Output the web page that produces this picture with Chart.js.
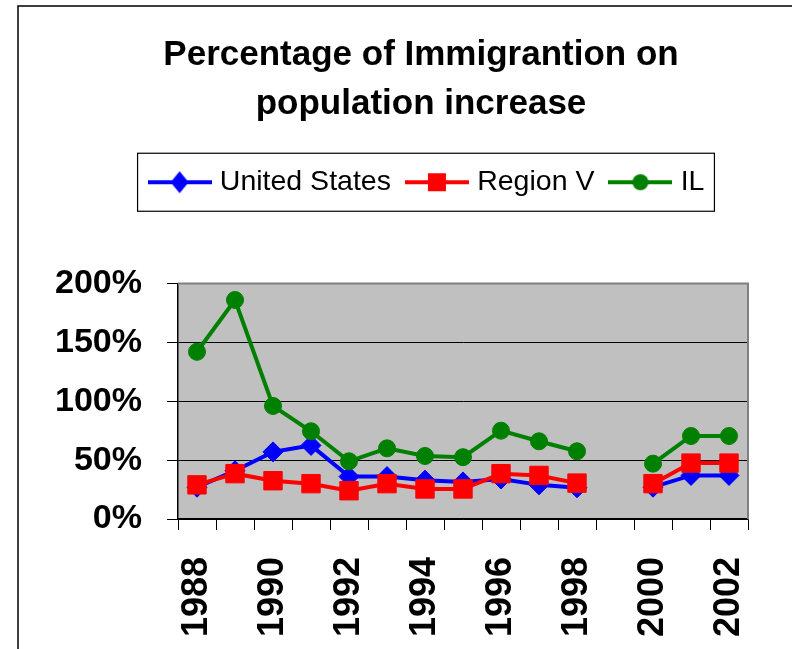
<!DOCTYPE html>
<html>
<head>
<meta charset="utf-8">
<script src="https://cdn.jsdelivr.net/npm/chart.js@4.4.1/dist/chart.umd.min.js"></script>
<style>
  html, body { margin: 0; padding: 0; background: #fff; overflow: hidden; }
  #wrap { width: 792px; height: 649px; }
</style>
</head>
<body>
<div id="wrap"><canvas id="chart" width="792" height="649"></canvas></div>
<script>
// Data (percent); 1999 has no value
const years = ["1988", "1989", "1990", "1991", "1992", "1993", "1994", "1995",
               "1996", "1997", "1998", "1999", "2000", "2001", "2002"];
const unitedStates = [27, 41, 57, 62.5, 36, 36, 33, 31.5, 34, 29, 26.5, null, 27, 37, 37];
const regionV = [29, 38.5, 32.5, 30, 24, 30, 25.5, 25.5, 38.5, 37, 30.5, null, 30, 47.5, 47.5];
const illinois = [142, 186, 96, 74.5, 49, 60, 53.5, 52.5, 75, 66, 57.5, null, 47, 70.5, 70.5];
const yTicks = [0, 50, 100, 150, 200];

const FONT = "'Liberation Sans', Arial, sans-serif";

// legend sample: short line with the marker in the middle
function legendMark(color, shape) {
  const c = document.createElement("canvas");
  c.width = 64;
  c.height = 28;
  const g = c.getContext("2d");
  g.strokeStyle = color;
  g.fillStyle = color;
  g.lineWidth = 4;
  g.beginPath();
  g.moveTo(0, 14);
  g.lineTo(64, 14);
  g.stroke();
  g.beginPath();
  if (shape === "diamond") {
    g.moveTo(32, 3); g.lineTo(41, 14); g.lineTo(32, 25); g.lineTo(23, 14);
  } else if (shape === "square") {
    g.rect(23, 5, 18, 18);
  } else {
    g.arc(32, 14, 8, 0, Math.PI * 2);
  }
  g.closePath();
  g.fill();
  return c;
}

const legendMarks = [
  legendMark("#0000FF", "diamond"),
  legendMark("#FF0000", "square"),
  legendMark("#008000", "circle"),
];

// frame, grey plot area and the boxed legend
const decor = {
  id: "decor",
  beforeInit(chart) {
    const fit = chart.legend.fit;
    chart.legend.fit = function () {
      fit.call(this);
      this.height += 77;
    };
  },
  afterLayout(chart) {
    // legend sits a little right of the title in the original
    chart.legend.left += 8;
    chart.legend.right += 8;
  },
  beforeDraw(chart) {
    const { ctx, chartArea: a } = chart;
    ctx.save();
    ctx.fillStyle = "#fff";
    ctx.fillRect(0, 0, chart.width, chart.height);
    ctx.fillStyle = "#C0C0C0";
    ctx.fillRect(a.left, a.top, a.right - a.left, a.bottom - a.top);
    ctx.strokeStyle = "#000";
    ctx.lineWidth = 1.5;
    ctx.beginPath();
    ctx.moveTo(18, chart.height + 5);
    ctx.lineTo(18, 6);
    ctx.lineTo(chart.width + 5, 6);
    ctx.stroke();
    ctx.restore();
  },
  beforeDatasetsDraw(chart) {
    const { ctx, chartArea: a } = chart;
    ctx.save();
    ctx.strokeStyle = "#808080";
    ctx.lineWidth = 2;
    ctx.beginPath();
    ctx.moveTo(a.left, a.top);
    ctx.lineTo(a.right, a.top);
    ctx.lineTo(a.right, a.bottom);
    ctx.stroke();
    ctx.restore();
  },
  afterDraw(chart) {
    const boxes = chart.legend.legendHitBoxes;
    if (!boxes || !boxes.length) return;
    const first = boxes[0];
    const last = boxes[boxes.length - 1];
    const mid = first.top + first.height / 2;
    const ctx = chart.ctx;
    ctx.save();
    ctx.strokeStyle = "#000";
    ctx.lineWidth = 1.2;
    ctx.strokeRect(first.left - 16, mid - 29, last.left + last.width - first.left + 26, 58);
    ctx.restore();
  },
};

new Chart(document.getElementById("chart"), {
  type: "line",
  data: {
    labels: years,
    datasets: [
      {
        label: "United States",
        data: unitedStates,
        borderColor: "#0000FF",
        backgroundColor: "#0000FF",
        pointStyle: "rectRot",
        pointRadius: 10,
        order: 3,
      },
      {
        label: "Region V",
        data: regionV,
        borderColor: "#FF0000",
        backgroundColor: "#FF0000",
        pointStyle: "rect",
        pointRadius: 13,
        order: 2,
      },
      {
        label: "IL",
        data: illinois,
        borderColor: "#008000",
        backgroundColor: "#008000",
        pointStyle: "circle",
        pointRadius: 8.5,
        order: 1,
      },
    ],
  },
  options: {
    responsive: false,
    animation: false,
    devicePixelRatio: 1,
    spanGaps: false,
    layout: { padding: { left: 50, right: 0, top: 10, bottom: 0 } },
    elements: {
      line: { borderWidth: 4, tension: 0 },
      point: { borderWidth: 1 },
    },
    plugins: {
      tooltip: { enabled: false },
      title: {
        display: true,
        text: ["Percentage of Immigrantion on", "population increase"],
        color: "#000",
        font: { family: FONT, size: 35, weight: "bold", lineHeight: 1.4 },
        padding: { top: 20.5, bottom: 19.5 },
      },
      legend: {
        display: true,
        position: "top",
        labels: {
          color: "#000",
          font: { family: FONT, size: 28.5 },
          usePointStyle: true,
          pointStyleWidth: 52,
          boxHeight: 28,
          padding: 20,
          generateLabels(chart) {
            const items = Chart.defaults.plugins.legend.labels.generateLabels(chart);
            items.forEach((it) => { it.pointStyle = legendMarks[it.datasetIndex]; });
            return items;
          },
          sort: (a, b) => a.datasetIndex - b.datasetIndex,
        },
      },
    },
    scales: {
      x: {
        type: "category",
        offset: true,
        grid: {
          offset: true,
          drawOnChartArea: false,
          tickLength: 11,
          color: "#000",
        },
        border: { color: "#000", width: 1.5 },
        ticks: {
          autoSkip: false,
          minRotation: 90,
          maxRotation: 90,
          padding: 27,
          color: "#000",
          font: { family: FONT, size: 36, weight: "bold" },
          callback(value, index) {
            return index % 2 === 0 ? years[index] : "";
          },
        },
        afterFit(scale) {
          scale.height = 130;
          scale.paddingLeft = 0;
          scale.paddingRight = 0;
        },
      },
      y: {
        min: yTicks[0],
        max: yTicks[yTicks.length - 1],
        afterBuildTicks(scale) { scale.ticks = yTicks.map((v) => ({ value: v })); },
        grid: { color: "#000", lineWidth: 1, tickLength: 11 },
        border: { color: "#000", width: 1.5 },
        ticks: {
          padding: 25,
          color: "#000",
          font: { family: FONT, size: 34, weight: "bold" },
          callback: (v) => v + "%",
        },
        afterFit(scale) { scale.width = 128; },
      },
      spacer: {
        type: "linear",
        position: "right",
        grid: { display: false },
        border: { display: false },
        ticks: { display: false },
        afterFit(scale) { scale.width = 44; },
      },
    },
  },
  plugins: [decor],
});
</script>
</body>
</html>
